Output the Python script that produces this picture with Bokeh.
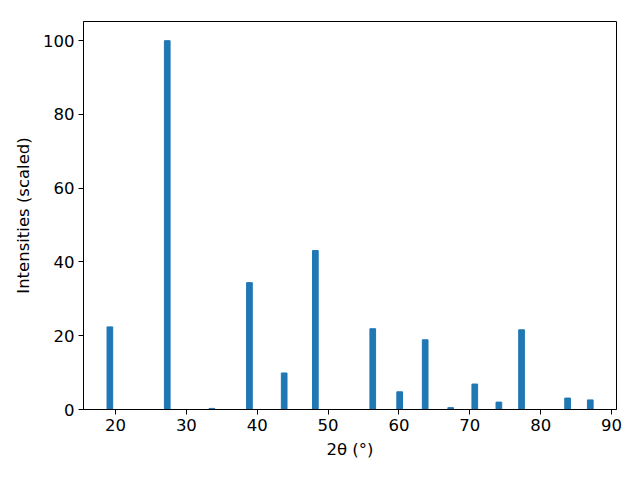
from bokeh.plotting import figure
from bokeh.embed import file_html
from bokeh.resources import INLINE
from bokeh.models import FixedTicker, Range1d

two_theta = [19.2, 27.3, 33.6, 38.9, 43.8, 48.2, 56.3, 60.1, 63.7, 67.3, 70.7, 74.1, 77.3, 83.8, 87.0]
intensity = [22.4, 100.0, 0.3, 34.4, 9.9, 43.1, 21.9, 4.8, 18.9, 0.5, 6.9, 2.0, 21.6, 3.1, 2.6]
x_ticks = [20, 30, 40, 50, 60, 70, 80, 90]
y_ticks = [0, 20, 40, 60, 80, 100]

p = figure(output_backend="svg", toolbar_location=None,
           frame_width=533, frame_height=388,
           min_border_left=83, min_border_right=16, min_border_top=21, min_border_bottom=55,
           x_range=Range1d(15.48, 90.7), y_range=Range1d(0, 105.2))

p.vbar(x=two_theta, top=intensity, bottom=0, width=0.8, color="#1f77b4")

p.xgrid.visible = False
p.ygrid.visible = False
p.outline_line_color = "black"
p.outline_line_width = 1
p.outline_line_alpha = 1

for ax in (p.xaxis[0], p.yaxis[0]):
    ax.minor_tick_line_color = None
    ax.major_tick_out = 5
    ax.major_tick_in = 0
    ax.major_label_text_font = "DejaVu Sans"
    ax.major_label_text_font_size = "16.5px"
    ax.major_label_text_color = "black"
    ax.axis_label_text_font = "DejaVu Sans"
    ax.axis_label_text_font_size = "16.5px"
    ax.axis_label_text_font_style = "normal"
    ax.axis_label_text_color = "black"
    ax.axis_line_color = "black"
    ax.major_tick_line_color = "black"

p.xaxis.ticker = FixedTicker(ticks=x_ticks)
p.yaxis.ticker = FixedTicker(ticks=y_ticks)
p.xaxis.axis_label = "2θ (°)"
p.yaxis.axis_label = "Intensities (scaled)"
p.xaxis.major_label_standoff = 4
p.yaxis.major_label_standoff = 4
p.xaxis.axis_label_standoff = 6
p.yaxis.axis_label_standoff = 7

open("out.html", "w").write(file_html(p, INLINE))
